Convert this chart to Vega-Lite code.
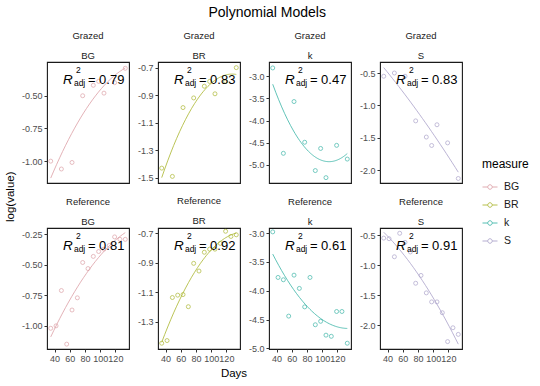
{
"$schema": "https://vega.github.io/schema/vega-lite/v6.json",
"data": {"name": "d"},
"datasets": {"d": [
{"treatment":"Grazed","measure":"BG","Days":35,"value":-1.00},
{"treatment":"Grazed","measure":"BG","Days":49,"value":-1.06},
{"treatment":"Grazed","measure":"BG","Days":63,"value":-1.01},
{"treatment":"Grazed","measure":"BG","Days":77,"value":-0.50},
{"treatment":"Grazed","measure":"BG","Days":91,"value":-0.42},
{"treatment":"Grazed","measure":"BG","Days":98,"value":-0.39},
{"treatment":"Grazed","measure":"BG","Days":105,"value":-0.48},
{"treatment":"Grazed","measure":"BG","Days":119,"value":-0.40},
{"treatment":"Grazed","measure":"BG","Days":133,"value":-0.29},
{"treatment":"Grazed","measure":"BR","Days":35,"value":-1.43},
{"treatment":"Grazed","measure":"BR","Days":49,"value":-1.49},
{"treatment":"Grazed","measure":"BR","Days":63,"value":-0.99},
{"treatment":"Grazed","measure":"BR","Days":77,"value":-0.92},
{"treatment":"Grazed","measure":"BR","Days":91,"value":-0.835},
{"treatment":"Grazed","measure":"BR","Days":98,"value":-0.80},
{"treatment":"Grazed","measure":"BR","Days":105,"value":-0.89},
{"treatment":"Grazed","measure":"BR","Days":119,"value":-0.80},
{"treatment":"Grazed","measure":"BR","Days":133,"value":-0.70},
{"treatment":"Grazed","measure":"k","Days":35,"value":-2.81},
{"treatment":"Grazed","measure":"k","Days":49,"value":-4.74},
{"treatment":"Grazed","measure":"k","Days":63,"value":-3.57},
{"treatment":"Grazed","measure":"k","Days":77,"value":-4.49},
{"treatment":"Grazed","measure":"k","Days":91,"value":-5.13},
{"treatment":"Grazed","measure":"k","Days":98,"value":-4.63},
{"treatment":"Grazed","measure":"k","Days":105,"value":-5.29},
{"treatment":"Grazed","measure":"k","Days":119,"value":-4.56},
{"treatment":"Grazed","measure":"k","Days":133,"value":-4.87},
{"treatment":"Grazed","measure":"S","Days":35,"value":-0.55},
{"treatment":"Grazed","measure":"S","Days":49,"value":-0.50},
{"treatment":"Grazed","measure":"S","Days":63,"value":-0.55},
{"treatment":"Grazed","measure":"S","Days":77,"value":-1.24},
{"treatment":"Grazed","measure":"S","Days":91,"value":-1.49},
{"treatment":"Grazed","measure":"S","Days":98,"value":-1.62},
{"treatment":"Grazed","measure":"S","Days":105,"value":-1.30},
{"treatment":"Grazed","measure":"S","Days":119,"value":-1.58},
{"treatment":"Grazed","measure":"S","Days":133,"value":-2.13},
{"treatment":"Reference","measure":"BG","Days":35,"value":-1.02},
{"treatment":"Reference","measure":"BG","Days":42,"value":-1.00},
{"treatment":"Reference","measure":"BG","Days":49,"value":-0.71},
{"treatment":"Reference","measure":"BG","Days":56,"value":-1.15},
{"treatment":"Reference","measure":"BG","Days":63,"value":-0.87},
{"treatment":"Reference","measure":"BG","Days":70,"value":-0.77},
{"treatment":"Reference","measure":"BG","Days":77,"value":-0.48},
{"treatment":"Reference","measure":"BG","Days":84,"value":-0.53},
{"treatment":"Reference","measure":"BG","Days":91,"value":-0.43},
{"treatment":"Reference","measure":"BG","Days":98,"value":-0.39},
{"treatment":"Reference","measure":"BG","Days":105,"value":-0.37},
{"treatment":"Reference","measure":"BG","Days":112,"value":-0.34},
{"treatment":"Reference","measure":"BG","Days":119,"value":-0.27},
{"treatment":"Reference","measure":"BG","Days":126,"value":-0.29},
{"treatment":"Reference","measure":"BG","Days":133,"value":-0.29},
{"treatment":"Reference","measure":"BR","Days":35,"value":-1.445},
{"treatment":"Reference","measure":"BR","Days":42,"value":-1.427},
{"treatment":"Reference","measure":"BR","Days":49,"value":-1.136},
{"treatment":"Reference","measure":"BR","Days":56,"value":-1.12},
{"treatment":"Reference","measure":"BR","Days":63,"value":-1.116},
{"treatment":"Reference","measure":"BR","Days":70,"value":-1.198},
{"treatment":"Reference","measure":"BR","Days":77,"value":-0.905},
{"treatment":"Reference","measure":"BR","Days":84,"value":-0.957},
{"treatment":"Reference","measure":"BR","Days":91,"value":-0.83},
{"treatment":"Reference","measure":"BR","Days":98,"value":-0.809},
{"treatment":"Reference","measure":"BR","Days":105,"value":-0.809},
{"treatment":"Reference","measure":"BR","Days":112,"value":-0.77},
{"treatment":"Reference","measure":"BR","Days":119,"value":-0.688},
{"treatment":"Reference","measure":"BR","Days":126,"value":-0.723},
{"treatment":"Reference","measure":"BR","Days":133,"value":-0.712},
{"treatment":"Reference","measure":"k","Days":35,"value":-2.98},
{"treatment":"Reference","measure":"k","Days":42,"value":-3.77},
{"treatment":"Reference","measure":"k","Days":49,"value":-3.81},
{"treatment":"Reference","measure":"k","Days":56,"value":-4.44},
{"treatment":"Reference","measure":"k","Days":63,"value":-3.73},
{"treatment":"Reference","measure":"k","Days":70,"value":-3.96},
{"treatment":"Reference","measure":"k","Days":77,"value":-4.28},
{"treatment":"Reference","measure":"k","Days":84,"value":-3.77},
{"treatment":"Reference","measure":"k","Days":91,"value":-4.59},
{"treatment":"Reference","measure":"k","Days":98,"value":-4.53},
{"treatment":"Reference","measure":"k","Days":105,"value":-4.77},
{"treatment":"Reference","measure":"k","Days":112,"value":-4.79},
{"treatment":"Reference","measure":"k","Days":119,"value":-4.36},
{"treatment":"Reference","measure":"k","Days":126,"value":-4.36},
{"treatment":"Reference","measure":"k","Days":133,"value":-4.91},
{"treatment":"Reference","measure":"S","Days":35,"value":-0.55},
{"treatment":"Reference","measure":"S","Days":42,"value":-0.56},
{"treatment":"Reference","measure":"S","Days":49,"value":-0.86},
{"treatment":"Reference","measure":"S","Days":56,"value":-0.47},
{"treatment":"Reference","measure":"S","Days":63,"value":-0.62},
{"treatment":"Reference","measure":"S","Days":70,"value":-0.78},
{"treatment":"Reference","measure":"S","Days":77,"value":-1.30},
{"treatment":"Reference","measure":"S","Days":84,"value":-1.17},
{"treatment":"Reference","measure":"S","Days":91,"value":-1.46},
{"treatment":"Reference","measure":"S","Days":98,"value":-1.61},
{"treatment":"Reference","measure":"S","Days":105,"value":-1.61},
{"treatment":"Reference","measure":"S","Days":112,"value":-1.79},
{"treatment":"Reference","measure":"S","Days":119,"value":-2.27},
{"treatment":"Reference","measure":"S","Days":126,"value":-2.04},
{"treatment":"Reference","measure":"S","Days":133,"value":-2.15},
{"treatment":"Grazed","measure":"BG","lx":51,"ly":-0.410,"r2":"= 0.79"},
{"treatment":"Grazed","measure":"BR","lx":51,"ly":-0.818,"r2":"= 0.83"},
{"treatment":"Grazed","measure":"k","lx":51,"ly":-3.170,"r2":"= 0.47"},
{"treatment":"Grazed","measure":"S","lx":51,"ly":-0.670,"r2":"= 0.83"},
{"treatment":"Reference","measure":"BG","lx":51,"ly":-0.380,"r2":"= 0.81"},
{"treatment":"Reference","measure":"BR","lx":51,"ly":-0.816,"r2":"= 0.92"},
{"treatment":"Reference","measure":"k","lx":51,"ly":-3.296,"r2":"= 0.61"},
{"treatment":"Reference","measure":"S","lx":51,"ly":-0.753,"r2":"= 0.91"}
]},
"title": {"text": "Polynomial Models", "fontSize": 14, "lineHeight": 16, "offset": 10, "color": "#000000"},
"vconcat": [{
 "title": {"text": "Days", "orient": "bottom", "fontSize": 11.5, "lineHeight": 14, "offset": 4, "color": "#000000"},
 "hconcat": [{
  "title": {"text": "log(value)", "orient": "left", "fontSize": 11.5, "lineHeight": 14, "offset": 4, "color": "#000000"},
  "columns": 4,
  "bounds": "flush",
  "spacing": {"row": 45, "column": 29},
  "concat": [
   {"width": 82, "height": 121, "title": {"text": ["Grazed", "BG"]},
    "transform": [{"filter": "datum.treatment === 'Grazed' && datum.measure === 'BG'"}],
    "layer": [
     {"transform": [{"filter": "isValid(datum.value)"}],
      "mark": {"type": "point", "filled": false, "size": 16, "strokeWidth": 0.8, "opacity": 0.85},
      "encoding": {
       "x": {"field": "Days", "type": "quantitative", "scale": {"domain": [30.1, 137.9], "nice": false, "zero": false}, "axis": null},
       "y": {"field": "value", "type": "quantitative", "scale": {"domain": [-1.167, -0.242], "nice": false, "zero": false}, "axis": {"values": [-1, -0.75, -0.5], "format": ".2f", "title": null}},
       "color": {"field": "measure", "type": "nominal", "scale": {"domain": ["BG", "BR", "k", "S"], "range": ["#dc9ea5", "#aab52c", "#38b4a6", "#a9a1c9"]}, "legend": {"title": "measure", "orient": "none", "legendX": 435, "legendY": 97, "symbolType": "M-1,0H-0.3M0.3,0H1M-0.3,0A0.3,0.3 0 1,0 0.3,0A0.3,0.3 0 1,0 -0.3,0", "symbolSize": 225, "symbolStrokeWidth": 1, "symbolFillColor": "transparent", "labelFontSize": 10.5, "titleFontSize": 12, "titleFontWeight": "normal", "titlePadding": 8, "rowPadding": 4, "labelOffset": 6}}
      }},
     {"transform": [{"filter": "isValid(datum.value)"}, {"regression": "value", "on": "Days", "method": "poly", "order": 2, "groupby": ["measure"]}],
      "mark": {"type": "line", "strokeWidth": 0.8},
      "encoding": {"x": {"field": "Days", "type": "quantitative", "axis": null}, "y": {"field": "value", "type": "quantitative", "title": null}, "color": {"field": "measure", "type": "nominal"}}},
     {"transform": [{"filter": "isValid(datum.r2)"}],
      "encoding": {"x": {"field": "lx", "type": "quantitative", "axis": null}, "y": {"field": "ly", "type": "quantitative", "title": null}},
      "layer": [
       {"mark": {"type": "text", "text": "R", "fontStyle": "italic", "fontSize": 13.5, "align": "left", "baseline": "alphabetic"}},
       {"mark": {"type": "text", "text": "2", "fontSize": 8.5, "align": "left", "baseline": "alphabetic", "dx": 13, "dy": -11}},
       {"mark": {"type": "text", "text": "adj", "fontSize": 8.5, "align": "left", "baseline": "alphabetic", "dx": 11, "dy": 2}},
       {"mark": {"type": "text", "fontSize": 13, "align": "left", "baseline": "alphabetic", "dx": 25}, "encoding": {"text": {"field": "r2"}}}
      ]}
    ]},
   {"width": 82, "height": 121, "title": {"text": ["Grazed", "BR"]},
    "transform": [{"filter": "datum.treatment === 'Grazed' && datum.measure === 'BR'"}],
    "layer": [
     {"transform": [{"filter": "isValid(datum.value)"}],
      "mark": {"type": "point", "filled": false, "size": 16, "strokeWidth": 0.8, "opacity": 0.85},
      "encoding": {
       "x": {"field": "Days", "type": "quantitative", "scale": {"domain": [30.1, 137.9], "nice": false, "zero": false}, "axis": null},
       "y": {"field": "value", "type": "quantitative", "scale": {"domain": [-1.538, -0.659], "nice": false, "zero": false}, "axis": {"values": [-1.5, -1.3, -1.1, -0.9, -0.7], "format": ".1f", "title": null}},
       "color": {"field": "measure", "type": "nominal"}
      }},
     {"transform": [{"filter": "isValid(datum.value)"}, {"regression": "value", "on": "Days", "method": "poly", "order": 2, "groupby": ["measure"]}],
      "mark": {"type": "line", "strokeWidth": 0.8},
      "encoding": {"x": {"field": "Days", "type": "quantitative", "axis": null}, "y": {"field": "value", "type": "quantitative", "title": null}, "color": {"field": "measure", "type": "nominal"}}},
     {"transform": [{"filter": "isValid(datum.r2)"}],
      "encoding": {"x": {"field": "lx", "type": "quantitative", "axis": null}, "y": {"field": "ly", "type": "quantitative", "title": null}},
      "layer": [
       {"mark": {"type": "text", "text": "R", "fontStyle": "italic", "fontSize": 13.5, "align": "left", "baseline": "alphabetic"}},
       {"mark": {"type": "text", "text": "2", "fontSize": 8.5, "align": "left", "baseline": "alphabetic", "dx": 13, "dy": -11}},
       {"mark": {"type": "text", "text": "adj", "fontSize": 8.5, "align": "left", "baseline": "alphabetic", "dx": 11, "dy": 2}},
       {"mark": {"type": "text", "fontSize": 13, "align": "left", "baseline": "alphabetic", "dx": 25}, "encoding": {"text": {"field": "r2"}}}
      ]}
    ]},
   {"width": 82, "height": 121, "title": {"text": ["Grazed", "k"]},
    "transform": [{"filter": "datum.treatment === 'Grazed' && datum.measure === 'k'"}],
    "layer": [
     {"transform": [{"filter": "isValid(datum.value)"}],
      "mark": {"type": "point", "filled": false, "size": 16, "strokeWidth": 0.8, "opacity": 0.85},
      "encoding": {
       "x": {"field": "Days", "type": "quantitative", "scale": {"domain": [30.1, 137.9], "nice": false, "zero": false}, "axis": null},
       "y": {"field": "value", "type": "quantitative", "scale": {"domain": [-5.411, -2.676], "nice": false, "zero": false}, "axis": {"values": [-5, -4.5, -4, -3.5, -3], "format": ".1f", "title": null}},
       "color": {"field": "measure", "type": "nominal"}
      }},
     {"transform": [{"filter": "isValid(datum.value)"}, {"regression": "value", "on": "Days", "method": "poly", "order": 2, "groupby": ["measure"]}],
      "mark": {"type": "line", "strokeWidth": 0.8},
      "encoding": {"x": {"field": "Days", "type": "quantitative", "axis": null}, "y": {"field": "value", "type": "quantitative", "title": null}, "color": {"field": "measure", "type": "nominal"}}},
     {"transform": [{"filter": "isValid(datum.r2)"}],
      "encoding": {"x": {"field": "lx", "type": "quantitative", "axis": null}, "y": {"field": "ly", "type": "quantitative", "title": null}},
      "layer": [
       {"mark": {"type": "text", "text": "R", "fontStyle": "italic", "fontSize": 13.5, "align": "left", "baseline": "alphabetic"}},
       {"mark": {"type": "text", "text": "2", "fontSize": 8.5, "align": "left", "baseline": "alphabetic", "dx": 13, "dy": -11}},
       {"mark": {"type": "text", "text": "adj", "fontSize": 8.5, "align": "left", "baseline": "alphabetic", "dx": 11, "dy": 2}},
       {"mark": {"type": "text", "fontSize": 13, "align": "left", "baseline": "alphabetic", "dx": 25}, "encoding": {"text": {"field": "r2"}}}
      ]}
    ]},
   {"width": 82, "height": 121, "title": {"text": ["Grazed", "S"]},
    "transform": [{"filter": "datum.treatment === 'Grazed' && datum.measure === 'S'"}],
    "layer": [
     {"transform": [{"filter": "isValid(datum.value)"}],
      "mark": {"type": "point", "filled": false, "size": 16, "strokeWidth": 0.8, "opacity": 0.85},
      "encoding": {
       "x": {"field": "Days", "type": "quantitative", "scale": {"domain": [30.1, 137.9], "nice": false, "zero": false}, "axis": null},
       "y": {"field": "value", "type": "quantitative", "scale": {"domain": [-2.20, -0.33], "nice": false, "zero": false}, "axis": {"values": [-2, -1.5, -1, -0.5], "format": ".1f", "title": null}},
       "color": {"field": "measure", "type": "nominal"}
      }},
     {"transform": [{"filter": "isValid(datum.value)"}, {"regression": "value", "on": "Days", "method": "poly", "order": 2, "groupby": ["measure"]}],
      "mark": {"type": "line", "strokeWidth": 0.8},
      "encoding": {"x": {"field": "Days", "type": "quantitative", "axis": null}, "y": {"field": "value", "type": "quantitative", "title": null}, "color": {"field": "measure", "type": "nominal"}}},
     {"transform": [{"filter": "isValid(datum.r2)"}],
      "encoding": {"x": {"field": "lx", "type": "quantitative", "axis": null}, "y": {"field": "ly", "type": "quantitative", "title": null}},
      "layer": [
       {"mark": {"type": "text", "text": "R", "fontStyle": "italic", "fontSize": 13.5, "align": "left", "baseline": "alphabetic"}},
       {"mark": {"type": "text", "text": "2", "fontSize": 8.5, "align": "left", "baseline": "alphabetic", "dx": 13, "dy": -11}},
       {"mark": {"type": "text", "text": "adj", "fontSize": 8.5, "align": "left", "baseline": "alphabetic", "dx": 11, "dy": 2}},
       {"mark": {"type": "text", "fontSize": 13, "align": "left", "baseline": "alphabetic", "dx": 25}, "encoding": {"text": {"field": "r2"}}}
      ]}
    ]},
   {"width": 82, "height": 121, "title": {"text": ["Reference", "BG"]},
    "transform": [{"filter": "datum.treatment === 'Reference' && datum.measure === 'BG'"}],
    "layer": [
     {"transform": [{"filter": "isValid(datum.value)"}],
      "mark": {"type": "point", "filled": false, "size": 16, "strokeWidth": 0.8, "opacity": 0.85},
      "encoding": {
       "x": {"field": "Days", "type": "quantitative", "scale": {"domain": [30.1, 137.9], "nice": false, "zero": false}, "axis": {"values": [40, 60, 80, 100, 120], "title": null}},
       "y": {"field": "value", "type": "quantitative", "scale": {"domain": [-1.19, -0.197], "nice": false, "zero": false}, "axis": {"values": [-1, -0.75, -0.5, -0.25], "format": ".2f", "title": null}},
       "color": {"field": "measure", "type": "nominal"}
      }},
     {"transform": [{"filter": "isValid(datum.value)"}, {"regression": "value", "on": "Days", "method": "poly", "order": 2, "groupby": ["measure"]}],
      "mark": {"type": "line", "strokeWidth": 0.8},
      "encoding": {"x": {"field": "Days", "type": "quantitative", "title": null}, "y": {"field": "value", "type": "quantitative", "title": null}, "color": {"field": "measure", "type": "nominal"}}},
     {"transform": [{"filter": "isValid(datum.r2)"}],
      "encoding": {"x": {"field": "lx", "type": "quantitative", "title": null}, "y": {"field": "ly", "type": "quantitative", "title": null}},
      "layer": [
       {"mark": {"type": "text", "text": "R", "fontStyle": "italic", "fontSize": 13.5, "align": "left", "baseline": "alphabetic"}},
       {"mark": {"type": "text", "text": "2", "fontSize": 8.5, "align": "left", "baseline": "alphabetic", "dx": 13, "dy": -11}},
       {"mark": {"type": "text", "text": "adj", "fontSize": 8.5, "align": "left", "baseline": "alphabetic", "dx": 11, "dy": 2}},
       {"mark": {"type": "text", "fontSize": 13, "align": "left", "baseline": "alphabetic", "dx": 25}, "encoding": {"text": {"field": "r2"}}}
      ]}
    ]},
   {"width": 82, "height": 121, "title": {"text": ["Reference", "BR"]},
    "transform": [{"filter": "datum.treatment === 'Reference' && datum.measure === 'BR'"}],
    "layer": [
     {"transform": [{"filter": "isValid(datum.value)"}],
      "mark": {"type": "point", "filled": false, "size": 16, "strokeWidth": 0.8, "opacity": 0.85},
      "encoding": {
       "x": {"field": "Days", "type": "quantitative", "scale": {"domain": [30.1, 137.9], "nice": false, "zero": false}, "axis": {"values": [40, 60, 80, 100, 120], "title": null}},
       "y": {"field": "value", "type": "quantitative", "scale": {"domain": [-1.484, -0.666], "nice": false, "zero": false}, "axis": {"values": [-1.3, -1.1, -0.9, -0.7], "format": ".1f", "title": null}},
       "color": {"field": "measure", "type": "nominal"}
      }},
     {"transform": [{"filter": "isValid(datum.value)"}, {"regression": "value", "on": "Days", "method": "poly", "order": 2, "groupby": ["measure"]}],
      "mark": {"type": "line", "strokeWidth": 0.8},
      "encoding": {"x": {"field": "Days", "type": "quantitative", "title": null}, "y": {"field": "value", "type": "quantitative", "title": null}, "color": {"field": "measure", "type": "nominal"}}},
     {"transform": [{"filter": "isValid(datum.r2)"}],
      "encoding": {"x": {"field": "lx", "type": "quantitative", "title": null}, "y": {"field": "ly", "type": "quantitative", "title": null}},
      "layer": [
       {"mark": {"type": "text", "text": "R", "fontStyle": "italic", "fontSize": 13.5, "align": "left", "baseline": "alphabetic"}},
       {"mark": {"type": "text", "text": "2", "fontSize": 8.5, "align": "left", "baseline": "alphabetic", "dx": 13, "dy": -11}},
       {"mark": {"type": "text", "text": "adj", "fontSize": 8.5, "align": "left", "baseline": "alphabetic", "dx": 11, "dy": 2}},
       {"mark": {"type": "text", "fontSize": 13, "align": "left", "baseline": "alphabetic", "dx": 25}, "encoding": {"text": {"field": "r2"}}}
      ]}
    ]},
   {"width": 82, "height": 121, "title": {"text": ["Reference", "k"]},
    "transform": [{"filter": "datum.treatment === 'Reference' && datum.measure === 'k'"}],
    "layer": [
     {"transform": [{"filter": "isValid(datum.value)"}],
      "mark": {"type": "point", "filled": false, "size": 16, "strokeWidth": 0.8, "opacity": 0.85},
      "encoding": {
       "x": {"field": "Days", "type": "quantitative", "scale": {"domain": [30.1, 137.9], "nice": false, "zero": false}, "axis": {"values": [40, 60, 80, 100, 120], "title": null}},
       "y": {"field": "value", "type": "quantitative", "scale": {"domain": [-5.01, -2.913], "nice": false, "zero": false}, "axis": {"values": [-5, -4.5, -4, -3.5, -3], "format": ".1f", "title": null}},
       "color": {"field": "measure", "type": "nominal"}
      }},
     {"transform": [{"filter": "isValid(datum.value)"}, {"regression": "value", "on": "Days", "method": "poly", "order": 2, "groupby": ["measure"]}],
      "mark": {"type": "line", "strokeWidth": 0.8},
      "encoding": {"x": {"field": "Days", "type": "quantitative", "title": null}, "y": {"field": "value", "type": "quantitative", "title": null}, "color": {"field": "measure", "type": "nominal"}}},
     {"transform": [{"filter": "isValid(datum.r2)"}],
      "encoding": {"x": {"field": "lx", "type": "quantitative", "title": null}, "y": {"field": "ly", "type": "quantitative", "title": null}},
      "layer": [
       {"mark": {"type": "text", "text": "R", "fontStyle": "italic", "fontSize": 13.5, "align": "left", "baseline": "alphabetic"}},
       {"mark": {"type": "text", "text": "2", "fontSize": 8.5, "align": "left", "baseline": "alphabetic", "dx": 13, "dy": -11}},
       {"mark": {"type": "text", "text": "adj", "fontSize": 8.5, "align": "left", "baseline": "alphabetic", "dx": 11, "dy": 2}},
       {"mark": {"type": "text", "fontSize": 13, "align": "left", "baseline": "alphabetic", "dx": 25}, "encoding": {"text": {"field": "r2"}}}
      ]}
    ]},
   {"width": 82, "height": 121, "title": {"text": ["Reference", "S"]},
    "transform": [{"filter": "datum.treatment === 'Reference' && datum.measure === 'S'"}],
    "layer": [
     {"transform": [{"filter": "isValid(datum.value)"}],
      "mark": {"type": "point", "filled": false, "size": 16, "strokeWidth": 0.8, "opacity": 0.85},
      "encoding": {
       "x": {"field": "Days", "type": "quantitative", "scale": {"domain": [30.1, 137.9], "nice": false, "zero": false}, "axis": {"values": [40, 60, 80, 100, 120], "title": null}},
       "y": {"field": "value", "type": "quantitative", "scale": {"domain": [-2.393, -0.382], "nice": false, "zero": false}, "axis": {"values": [-2, -1.5, -1, -0.5], "format": ".1f", "title": null}},
       "color": {"field": "measure", "type": "nominal"}
      }},
     {"transform": [{"filter": "isValid(datum.value)"}, {"regression": "value", "on": "Days", "method": "poly", "order": 2, "groupby": ["measure"]}],
      "mark": {"type": "line", "strokeWidth": 0.8},
      "encoding": {"x": {"field": "Days", "type": "quantitative", "title": null}, "y": {"field": "value", "type": "quantitative", "title": null}, "color": {"field": "measure", "type": "nominal"}}},
     {"transform": [{"filter": "isValid(datum.r2)"}],
      "encoding": {"x": {"field": "lx", "type": "quantitative", "title": null}, "y": {"field": "ly", "type": "quantitative", "title": null}},
      "layer": [
       {"mark": {"type": "text", "text": "R", "fontStyle": "italic", "fontSize": 13.5, "align": "left", "baseline": "alphabetic"}},
       {"mark": {"type": "text", "text": "2", "fontSize": 8.5, "align": "left", "baseline": "alphabetic", "dx": 13, "dy": -11}},
       {"mark": {"type": "text", "text": "adj", "fontSize": 8.5, "align": "left", "baseline": "alphabetic", "dx": 11, "dy": 2}},
       {"mark": {"type": "text", "fontSize": 13, "align": "left", "baseline": "alphabetic", "dx": 25}, "encoding": {"text": {"field": "r2"}}}
      ]}
    ]}
  ]
 }]
}],
"config": {
 "font": "Liberation Sans",
 "background": "#ffffff",
 "locale": {"number": {"decimal": ".", "thousands": ",", "grouping": [3], "currency": ["$", ""], "minus": "-"}},
 "view": {"stroke": "#1a1a1a", "strokeWidth": 1.1},
 "title": {"fontSize": 9.5, "fontWeight": "normal", "lineHeight": 20, "offset": 2, "anchor": "middle", "color": "#1a1a1a"},
 "axis": {"domain": false, "grid": false, "ticks": true, "tickSize": 3, "tickCount": 12, "tickColor": "#333333", "tickWidth": 1, "labelFontSize": 9, "labelColor": "#4d4d4d", "labelPadding": 2, "labelFlush": false, "labelOverlap": false, "labelBound": false},
 "legend": {"labelColor": "#1a1a1a", "titleColor": "#000000"},
 "text": {"color": "#000000"}
}
}
